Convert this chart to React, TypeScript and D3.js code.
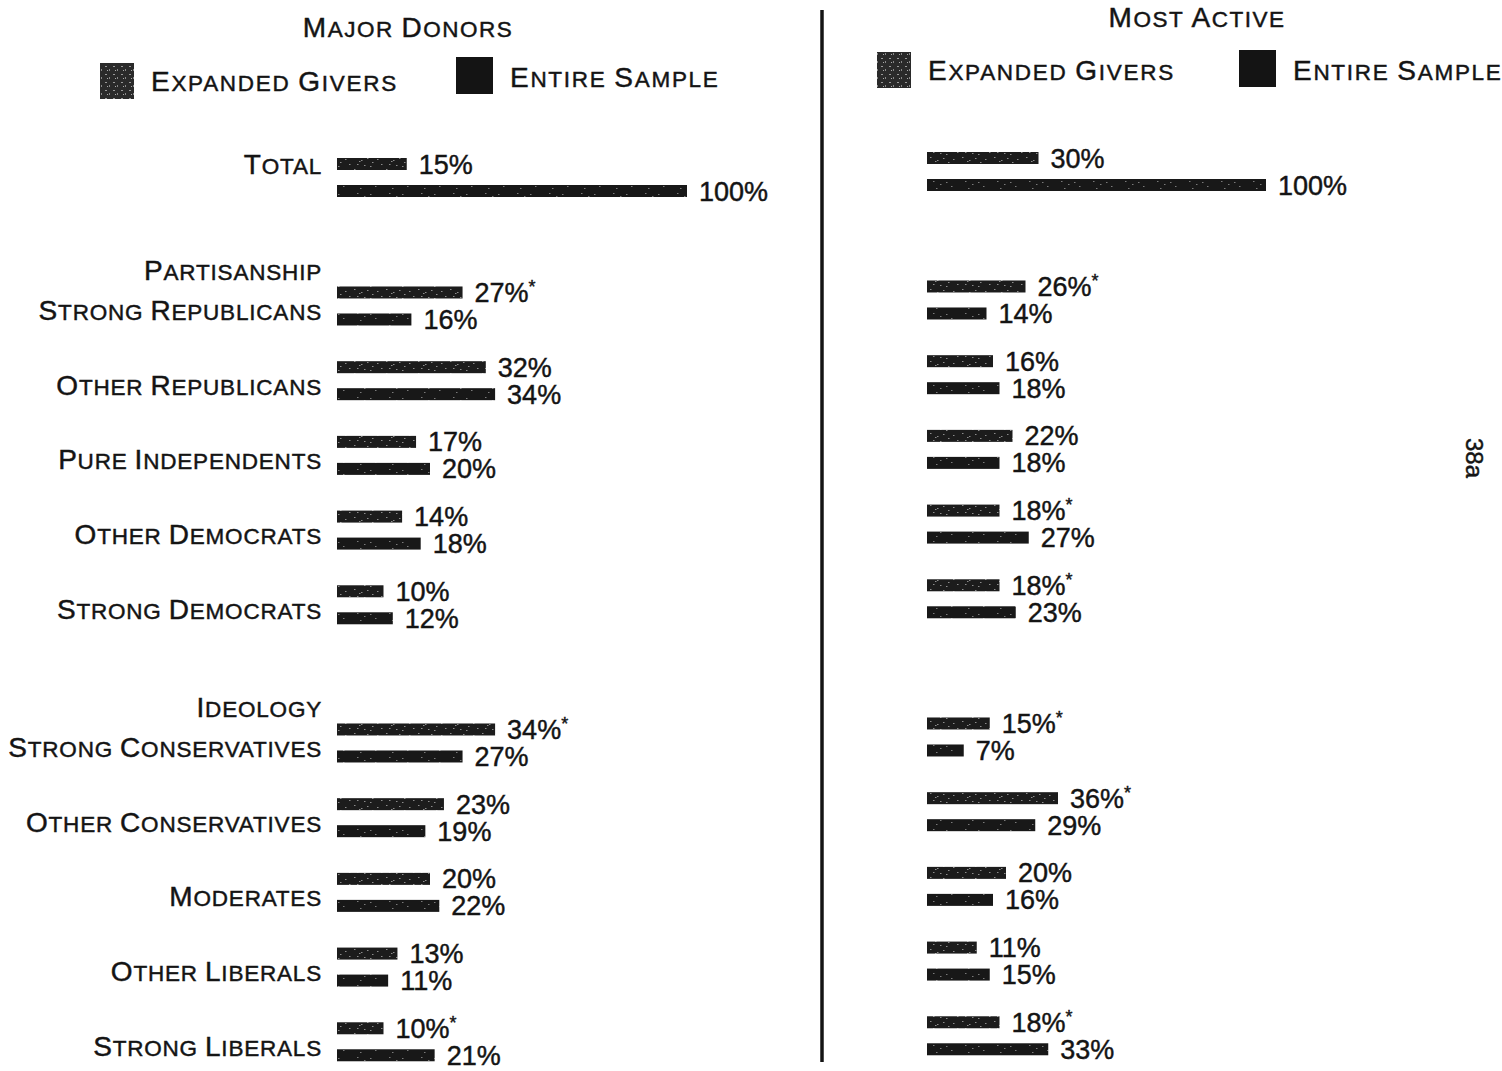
import React from "react";
import * as d3 from "d3";

// ---------- data ----------
const categories = [
  "Total",
  "Strong Republicans",
  "Other Republicans",
  "Pure Independents",
  "Other Democrats",
  "Strong Democrats",
  "Strong Conservatives",
  "Other Conservatives",
  "Moderates",
  "Other Liberals",
  "Strong Liberals",
];
const categoryGroups = [
  "",
  "Partisanship",
  "Partisanship",
  "Partisanship",
  "Partisanship",
  "Partisanship",
  "Ideology",
  "Ideology",
  "Ideology",
  "Ideology",
  "Ideology",
];
const seriesNames = ["Expanded Givers", "Entire Sample"];

const donorsExpanded = [15, 27, 32, 17, 14, 10, 34, 23, 20, 13, 10];
const donorsEntire = [100, 16, 34, 20, 18, 12, 27, 19, 22, 11, 21];
const donorsStar = [false, true, false, false, false, false, true, false, false, false, true];

const activeExpanded = [30, 26, 16, 22, 18, 18, 15, 36, 20, 11, 18];
const activeEntire = [100, 14, 18, 18, 27, 23, 7, 29, 16, 15, 33];
const activeStar = [false, true, false, false, true, true, true, true, false, false, true];

const panelTitles = ["Major Donors", "Most Active"];
const pageNumber = "38a";

// ---------- helpers ----------
const FONT = "'Liberation Sans', Arial, sans-serif";
const BIG = 28;
const SMALL = 22.5;
const INK = "#141414";

function smallCaps(text: string, big = BIG, small = SMALL) {
  const words = text.split(" ");
  const out: React.ReactNode[] = [];
  words.forEach((w, i) => {
    if (i > 0) out.push(<tspan key={`s${i}`} fontSize={small}>{" "}</tspan>);
    out.push(
      <tspan key={`b${i}`} fontSize={big}>
        {w[0].toUpperCase()}
      </tspan>
    );
    if (w.length > 1)
      out.push(
        <tspan key={`r${i}`} fontSize={small}>
          {w.slice(1).toUpperCase()}
        </tspan>
      );
  });
  return out;
}

// slot positions (row units) with extra space before each new group
function computeSlots() {
  const slots: number[] = [];
  let extra = 0;
  let gi = 0;
  categoryGroups.forEach((g, i) => {
    if (i > 0 && g !== categoryGroups[i - 1]) {
      extra += gi === 0 ? 0.72 : 0.85;
      gi++;
    }
    slots.push(i + extra);
  });
  return slots;
}

const inkText = { fill: INK, stroke: INK, strokeWidth: 0.45 };

type PanelProps = {
  expanded: number[];
  entire: number[];
  star: boolean[];
  x0: number;
  xScale: d3.ScaleLinear<number, number>;
  yScale: d3.ScaleLinear<number, number>;
  showLabels: boolean;
};

function Panel({ expanded, entire, star, x0, xScale, yScale, showLabels }: PanelProps) {
  const slots = computeSlots();
  const barH = 12;
  const off = 13.5;
  return (
    <g>
      {categories.map((c, i) => {
        const yc = yScale(slots[i]);
        const vals = [expanded[i], entire[i]];
        const isTotal = categoryGroups[i] === "";
        const newGroup = i > 0 && categoryGroups[i] !== categoryGroups[i - 1];
        return (
          <g key={c}>
            {showLabels && newGroup && (
              <text x={322} y={yc - 26} textAnchor="end" fontFamily={FONT} letterSpacing={0.8} {...inkText}>
                {smallCaps(categoryGroups[i])}
              </text>
            )}
            {showLabels && (
              <text
                x={322}
                y={isTotal ? yc - off + 10 : yc + 14}
                textAnchor="end"
                fontFamily={FONT}
                letterSpacing={0.8}
                {...inkText}
              >
                {smallCaps(c)}
              </text>
            )}
            {vals.map((v, k) => {
              const by = yc + (k === 0 ? -off : off);
              const w = xScale(v);
              return (
                <g key={k}>
                  <rect
                    x={x0}
                    y={by - barH / 2}
                    width={w}
                    height={barH}
                    fill={k === 0 ? "url(#texExp)" : "url(#texEnt)"}
                  />
                  <text x={x0 + w + 12} y={by + 9.5} fontFamily={FONT} fontSize={27} {...inkText}>
                    {v}%
                    {k === 0 && star[i] && (
                      <tspan fontSize={18} dy={-9}>
                        *
                      </tspan>
                    )}
                  </text>
                </g>
              );
            })}
          </g>
        );
      })}
    </g>
  );
}

function Legend({ x1, y1, x2, y2, s1, s2 }: { x1: number; y1: number; x2: number; y2: number; s1: number; s2: number }) {
  return (
    <g>
      <rect x={x1} y={y1} width={s1} height={s1 + 2} fill="url(#legExp)" />
      <text x={x1 + s1 + 17} y={y1 + s1 / 2 + 11} fontFamily={FONT} letterSpacing={1.7} {...inkText}>
        {smallCaps(seriesNames[0])}
      </text>
      <rect x={x2} y={y2} width={s2} height={s2} fill="#141414" />
      <text x={x2 + s2 + 17} y={y2 + s2 / 2 + 11} fontFamily={FONT} letterSpacing={1.7} {...inkText}>
        {smallCaps(seriesNames[1])}
      </text>
    </g>
  );
}

export default function App() {
  const slots = computeSlots();
  const maxSlot = slots[slots.length - 1];
  const unit = 74.7;

  const yLeft = d3.scaleLinear().domain([0, maxSlot]).range([177.5, 177.5 + unit * maxSlot]);
  const yRight = d3.scaleLinear().domain([0, maxSlot]).range([171.5, 171.5 + unit * maxSlot]);

  const xLeft = d3.scaleLinear().domain([0, 40, 100]).range([0, 186, 350]);
  const xRight = d3.scaleLinear().domain([0, 100]).range([14, 339]);

  // speckle texture offsets for bars
  const speck = [
    [2, 1], [9, 4], [15, 2], [20, 6], [5, 8], [12, 9], [18, 10], [25, 3], [29, 8], [7, 5],
  ];

  return (
    <svg
      width={1502}
      height={1071}
      style={{ position: "absolute", left: 0, top: 0, background: "#fff" }}
      xmlns="http://www.w3.org/2000/svg"
    >
      <defs>
        <pattern id="texExp" width={32} height={12} patternUnits="userSpaceOnUse">
          <rect width={32} height={12} fill="#1c1c1c" />
          {speck.map(([x, y], i) => (
            <rect key={i} x={x} y={y} width={1.5} height={1} fill="#8c8c8c" />
          ))}
        </pattern>
        <pattern id="texEnt" width={32} height={12} patternUnits="userSpaceOnUse">
          <rect width={32} height={12} fill="#181818" />
          {speck.slice(0, 5).map(([x, y], i) => (
            <rect key={i} x={x + 3} y={y} width={1.5} height={1} fill="#7a7a7a" />
          ))}
        </pattern>
        <pattern id="legExp" width={8} height={8} patternUnits="userSpaceOnUse">
          <rect width={8} height={8} fill="#2a2a2a" />
          <rect x={1} y={2} width={2} height={1} fill="#9a9a9a" />
          <rect x={5} y={5} width={1} height={2} fill="#888" />
          <rect x={3} y={6} width={1} height={1} fill="#aaa" />
        </pattern>
      </defs>
      <rect width={1502} height={1071} fill="#fff" />

      {/* titles */}
      <text x={408} y={37} textAnchor="middle" fontFamily={FONT} letterSpacing={1.5} {...inkText}>
        {smallCaps(panelTitles[0])}
      </text>
      <text x={1197} y={27} textAnchor="middle" fontFamily={FONT} letterSpacing={1.5} {...inkText}>
        {smallCaps(panelTitles[1])}
      </text>

      <Legend x1={100} y1={63} x2={456} y2={57} s1={34} s2={37} />
      <Legend x1={877} y1={52} x2={1239} y2={50} s1={34} s2={37} />

      {/* divider */}
      <line x1={822} x2={822} y1={10} y2={1062} stroke={INK} strokeWidth={3.5} />

      <Panel
        expanded={donorsExpanded}
        entire={donorsEntire}
        star={donorsStar}
        x0={337}
        xScale={xLeft}
        yScale={yLeft}
        showLabels={true}
      />
      <Panel
        expanded={activeExpanded}
        entire={activeEntire}
        star={activeStar}
        x0={927}
        xScale={xRight}
        yScale={yRight}
        showLabels={false}
      />

      <text transform="translate(1466,438) rotate(90)" fontFamily={FONT} fontSize={24} {...inkText}>
        {pageNumber}
      </text>
    </svg>
  );
}
